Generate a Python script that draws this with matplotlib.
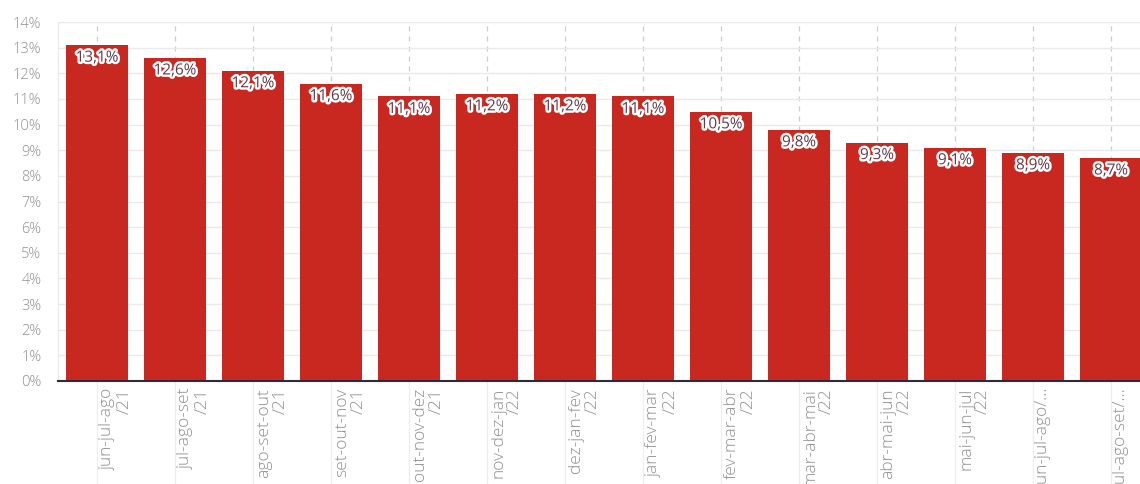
import matplotlib
matplotlib.use("Agg")
import matplotlib.pyplot as plt
import matplotlib.patheffects as pe
import matplotlib.transforms as mtransforms
from matplotlib.ticker import FuncFormatter, MultipleLocator

categories = ["jun-jul-ago\n/21", "jul-ago-set\n/21", "ago-set-out\n/21", "set-out-nov\n/21",
              "out-nov-dez\n/21", "nov-dez-jan\n/22", "dez-jan-fev\n/22", "jan-fev-mar\n/22",
              "fev-mar-abr\n/22", "mar-abr-mai\n/22", "abr-mai-jun\n/22", "mai-jun-jul\n/22",
              "jun-jul-ago/…", "jul-ago-set/…"]
values = [13.1, 12.6, 12.1, 11.6, 11.1, 11.2, 11.2, 11.1, 10.5, 9.8, 9.3, 9.1, 8.9, 8.7]
value_labels = ["13,1%", "12,6%", "12,1%", "11,6%", "11,1%", "11,2%", "11,2%", "11,1%",
                "10,5%", "9,8%", "9,3%", "9,1%", "8,9%", "8,7%"]

plt.rcParams['font.family'] = ['Open Sans', 'DejaVu Sans']

fig = plt.figure(figsize=(11.4, 4.84), dpi=100)
ax = fig.add_axes([58/1140, 103/484, 1 - 58/1140, (381-22)/484])

x = list(range(len(categories)))
ax.bar(x, values, width=0.8, color='#c8281f', zorder=3)

ax.set_xlim(-0.5, -0.5 + 1082/78)
ax.set_ylim(0, 14)
ax.yaxis.set_major_locator(MultipleLocator(1))
ax.yaxis.set_major_formatter(FuncFormatter(lambda v, p: f"{int(round(v))}%"))

ax.grid(axis='y', color='#e9e9e9', linewidth=1, zorder=0)
for xi in x:
    ax.axvline(xi, color='#cccccc', linestyle=(0, (4, 4)), linewidth=0.9, zorder=1)
    ax.plot([xi, xi], [0, -0.31], transform=mtransforms.blended_transform_factory(ax.transData, ax.transAxes),
            color='#eeeeee', linewidth=0.9, clip_on=False, zorder=0)

for s in ['top', 'right']:
    ax.spines[s].set_visible(False)
ax.spines['left'].set_color('#e9e9e9')
ax.spines['bottom'].set_color('#2b2b3a')
ax.spines['bottom'].set_linewidth(1.5)
ax.spines['bottom'].set_zorder(4)

ax.tick_params(axis='y', length=0, pad=12, labelsize=10.5, labelcolor='#909090')
ax.tick_params(axis='x', length=0, pad=5, labelsize=12.5, labelcolor='#909090')
ax.set_xticks(x)
ax.set_xticklabels(categories, rotation=90, ha='left', va='top', multialignment='right',
                   linespacing=1.05)
offset = mtransforms.ScaledTranslation(3/100, 0, fig.dpi_scale_trans)
for lbl in ax.get_xticklabels():
    lbl.set_transform(lbl.get_transform() + offset)
    lbl.set_fontweight('light')
for lbl in ax.get_yticklabels():
    lbl.set_fontweight('light')

for xi, v, lab in zip(x, values, value_labels):
    t = ax.annotate(lab, (xi, v), xytext=(0, -4), textcoords='offset points',
                    ha='center', va='top', fontsize=11, color='#5e3b48', zorder=5)
    t.set_path_effects([pe.withStroke(linewidth=3.5, foreground='white')])

fig.savefig("out.png", dpi=100)
